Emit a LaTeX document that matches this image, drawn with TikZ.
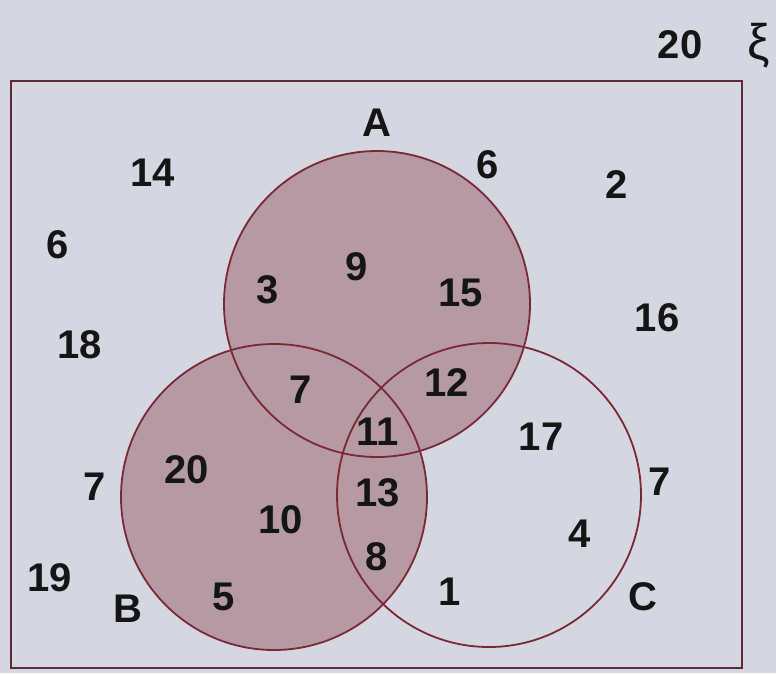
\documentclass[tikz,border=0pt]{standalone}
\usepackage{fontspec}
\setmainfont{Liberation Sans}
\definecolor{paperbg}{HTML}{D5D7E0}
\definecolor{mauvefill}{HTML}{B59AA4}
\definecolor{edgecol}{HTML}{7A2836}
\definecolor{framecol}{HTML}{5E2A36}
\definecolor{inkcol}{HTML}{151515}
\begin{document}
\begin{tikzpicture}[x=1pt,y=-1pt,
  lbl/.style={inner sep=0pt, text=inkcol, font=\fontsize{40}{44}\selectfont\bfseries},
  setline/.style={draw=edgecol, line width=1.8pt},
  framebox/.style={draw=framecol, line width=2.2pt}]
\fill[paperbg] (0,0) rectangle (776,673);
\useasboundingbox (0,0) rectangle (776,673);
% shaded union of A and B
\fill[mauvefill] (377,304) circle (153);
\fill[mauvefill] (274,497) circle (153);
% frame
\draw[framebox] (11,81) rectangle (742,668);
% circles
\draw[setline] (377,304) circle (153);
\draw[setline] (274,497) circle (153);
\draw[setline] (489,495) circle (152);
% labels
\node[lbl] (n20top) at (680,45) {20};
\node[lbl, font=\fontsize{50}{56}\selectfont] (xi) at (759,46) {ξ};
\node[lbl] (lA) at (377,123) {A};
\node[lbl] (lB) at (128,609) {B};
\node[lbl] (lC) at (643,597) {C};
\node[lbl] (o14) at (153,173) {14};
\node[lbl] (o6a) at (488,165) {6};
\node[lbl] (o2) at (617,185) {2};
\node[lbl] (o6b) at (58,245) {6};
\node[lbl] (o18) at (80,345) {18};
\node[lbl] (o16) at (657,318) {16};
\node[lbl] (o7a) at (95,487) {7};
\node[lbl] (o7b) at (660,482) {7};
\node[lbl] (o19) at (50,578) {19};
\node[lbl] (a3) at (268,290) {3};
\node[lbl] (a9) at (357,267) {9};
\node[lbl] (a15) at (461,293) {15};
\node[lbl] (ab7) at (301,390) {7};
\node[lbl] (ac12) at (447,383) {12};
\node[lbl] (abc11) at (378,432) {11};
\node[lbl] (bc13) at (378,493) {13};
\node[lbl] (bc8) at (377,557) {8};
\node[lbl] (c17) at (541,437) {17};
\node[lbl] (b20) at (187,470) {20};
\node[lbl] (b10) at (281,520) {10};
\node[lbl] (c4) at (580,534) {4};
\node[lbl] (b5) at (224,597) {5};
\node[lbl] (c1) at (450,592) {1};
\end{tikzpicture}
\end{document}
